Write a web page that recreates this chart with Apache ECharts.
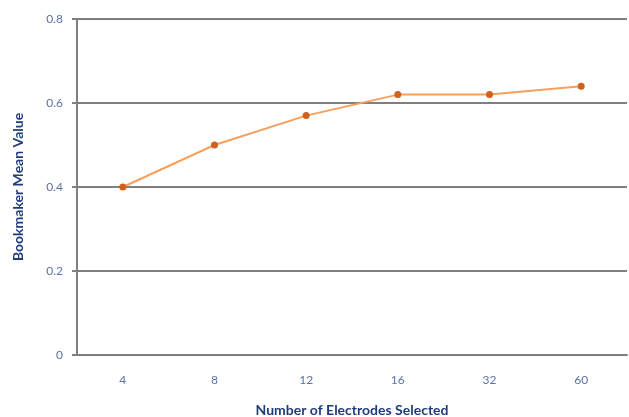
<!DOCTYPE html>
<html><head><meta charset="utf-8">
<script src="https://cdn.jsdelivr.net/npm/echarts@6/dist/echarts.min.js"></script>
<style>html,body{margin:0;padding:0;background:#fff}#c{width:629px;height:417px}</style>
</head><body><div id="c"></div>
<script>
const categories = ['4', '8', '12', '16', '32', '60'];
const meanValues = [0.40, 0.50, 0.57, 0.62, 0.62, 0.64];
const yTicks = [0, 0.2, 0.4, 0.6, 0.8];

const chart = echarts.init(document.getElementById('c'));
chart.setOption({
  animation: false,
  grid: { left: 77, right: 2, top: 19, bottom: 62, outerBoundsMode: 'none', containLabel: false },
  xAxis: {
    type: 'category',
    data: categories,
    name: 'Number of Electrodes Selected',
    nameLocation: 'middle',
    nameGap: 48,
    nameTextStyle: { color: '#1f3d7a', fontWeight: 'bold', fontSize: 14, fontFamily: 'Lato' },
    axisLine: { lineStyle: { color: '#7f7f7f', width: 2 } },
    axisTick: { show: false },
    axisLabel: { color: '#5b73a8', fontSize: 12, fontFamily: 'Lato', margin: 19 }
  },
  yAxis: {
    type: 'value',
    min: 0, max: 0.8, interval: 0.2,
    name: 'Bookmaker Mean Value',
    nameLocation: 'middle',
    nameGap: 52,
    nameTextStyle: { color: '#1f3d7a', fontWeight: 'bold', fontSize: 14, fontFamily: 'Lato' },
    axisLine: { show: true, lineStyle: { color: '#7f7f7f', width: 2 } },
    axisTick: { show: true, length: 5, lineStyle: { color: '#7f7f7f', width: 2 } },
    splitLine: { lineStyle: { color: '#7f7f7f', width: 2 } },
    axisLabel: {
      color: '#5b73a8', fontSize: 12, fontFamily: 'Lato', margin: 14,
      formatter: v => { const t = yTicks.find(x => Math.abs(x - v) < 1e-9); return t === 0 ? '0' : String(t); }
    }
  },
  series: [{
    type: 'line',
    data: meanValues,
    symbol: 'circle',
    symbolSize: 7,
    lineStyle: { color: '#f7a05e', width: 2 },
    itemStyle: { color: '#d2611c' }
  }]
});
</script></body></html>
